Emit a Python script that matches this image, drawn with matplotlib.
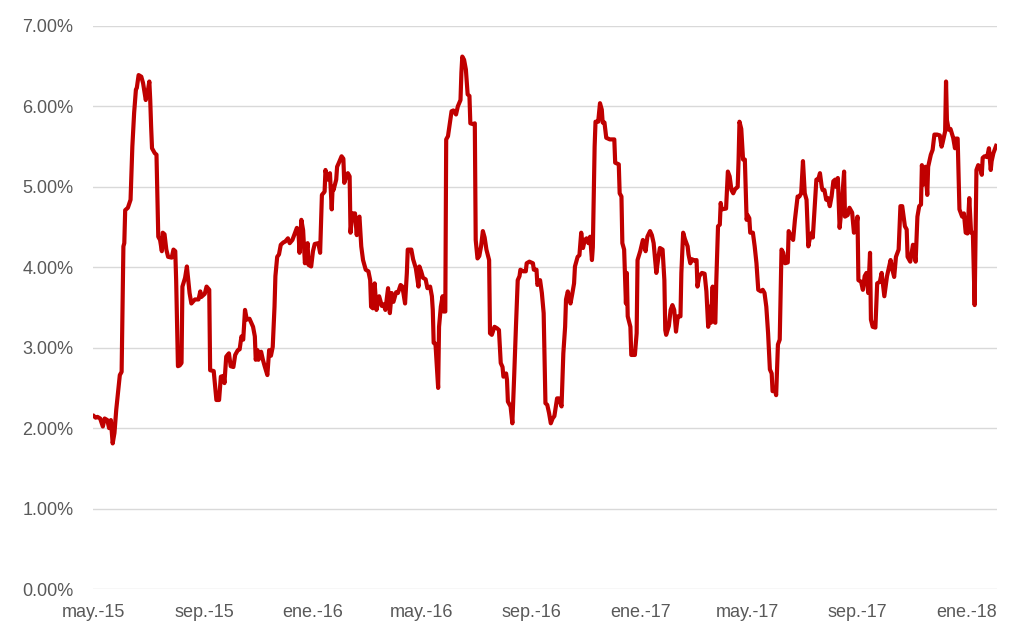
import numpy as np
import matplotlib
matplotlib.use("Agg")
import matplotlib.pyplot as plt
import matplotlib.dates as mdates
from matplotlib.ticker import FuncFormatter

# days counted from 1 May 2015, value in %
days = [0, 2, 4, 7, 10, 12, 15, 17, 19, 21, 23, 25, 27, 29, 31, 33, 34, 35, 38, 41,
        42, 43, 45, 47, 48, 50, 53, 55, 58, 60, 62, 63, 64, 65, 68, 70, 72, 74, 76, 77,
        79, 81, 83, 87, 89, 91, 92, 94, 96, 98, 99, 102, 104, 107, 109, 113, 117, 119, 120, 124,
        126, 129, 130, 134, 137, 140, 142, 145, 146, 148, 151, 153, 156, 158, 161, 163, 165, 167, 169, 171,
        174, 176, 178, 180, 181, 183, 184, 187, 189, 191, 194, 196, 198, 200, 202, 203, 205, 207, 209, 212,
        214, 217, 219, 222, 224, 227, 229, 230, 232, 234, 236, 239, 240, 243, 245, 247, 251, 253, 255, 258,
        259, 261, 263, 264, 266, 267, 268, 271, 272, 274, 277, 279, 280, 282, 284, 286, 287, 289, 292, 294,
        295, 297, 299, 301, 304, 307, 309, 310, 312, 314, 316, 319, 322, 324, 326, 329, 331, 333, 335, 338,
        340, 343, 345, 348, 350, 351, 355, 357, 360, 363, 364, 366, 368, 371, 373, 376, 378, 379, 380, 382,
        385, 386, 388, 390, 391, 393, 394, 396, 398, 400, 402, 405, 407, 410, 411, 412, 414, 416, 418, 420,
        421, 424, 426, 427, 429, 431, 433, 435, 437, 439, 442, 443, 445, 448, 451, 453, 455, 457, 458, 461,
        462, 463, 466, 468, 470, 472, 474, 476, 477, 480, 483, 484, 487, 491, 492, 495, 496, 499, 501, 503,
        505, 507, 509, 511, 513, 515, 518, 520, 523, 525, 527, 528, 530, 533, 535, 537, 538, 541, 543, 545,
        547, 549, 551, 553, 555, 557, 558, 560, 561, 564, 566, 568, 569, 571, 573, 577, 582, 583, 587, 588,
        590, 591, 593, 595, 596, 597, 600, 601, 605, 607, 608, 611, 614, 617, 619, 622, 624, 626, 629, 631,
        633, 636, 638, 639, 640, 643, 645, 647, 649, 651, 653, 656, 657, 659, 661, 664, 665, 667, 669, 672,
        674, 675, 677, 680, 683, 685, 687, 689, 690, 692, 693, 695, 696, 698, 700, 701, 702, 707, 709, 711,
        713, 715, 717, 720, 721, 722, 724, 726, 728, 730, 731, 733, 734, 737, 739, 741, 743, 746, 748, 750,
        752, 754, 756, 758, 759, 762, 763, 765, 767, 769, 771, 773, 776, 777, 779, 782, 784, 787, 789, 791,
        793, 795, 797, 799, 801, 803, 804, 806, 808, 810, 812, 814, 815, 817, 819, 821, 823, 825, 827, 829,
        830, 832, 834, 836, 839, 840, 843, 845, 848, 850, 852, 854, 855, 858, 860, 862, 864, 866, 868, 869,
        871, 874, 876, 879, 881, 884, 887, 891, 893, 895, 897, 900, 902, 904, 907, 909, 910, 913, 916, 919,
        921, 923, 925, 926, 928, 930, 932, 933, 936, 938, 940, 943, 946, 948, 949, 952, 953, 954, 956, 958,
        961, 963, 964, 966, 968, 971, 973, 975, 977, 979, 981, 983, 985, 987, 989, 991, 993, 994, 996, 999,
        1001, 1003, 1004, 1006, 1009]

rate = [2.15, 2.13, 2.14, 2.12, 2.02, 2.12, 2.10, 2.00, 2.10, 1.81, 1.94, 2.23, 2.44, 2.66, 2.70, 4.26, 4.30, 4.71, 4.74, 4.84,
        5.17, 5.50, 5.92, 6.21, 6.23, 6.39, 6.37, 6.29, 6.08, 6.17, 6.31, 6.08, 5.75, 5.48, 5.42, 5.40, 4.38, 4.34, 4.20, 4.43,
        4.41, 4.22, 4.13, 4.12, 4.22, 4.20, 3.84, 2.77, 2.78, 2.81, 3.76, 3.87, 4.01, 3.68, 3.55, 3.60, 3.60, 3.70, 3.63, 3.67,
        3.76, 3.72, 2.72, 2.71, 2.35, 2.35, 2.64, 2.65, 2.56, 2.89, 2.93, 2.77, 2.76, 2.91, 2.97, 2.98, 3.14, 3.10, 3.47, 3.35,
        3.36, 3.31, 3.26, 3.14, 2.85, 2.97, 2.85, 2.95, 2.85, 2.77, 2.66, 2.97, 2.90, 3.01, 3.51, 3.89, 4.13, 4.16, 4.28, 4.31,
        4.32, 4.36, 4.30, 4.34, 4.40, 4.49, 4.39, 4.18, 4.59, 4.46, 4.05, 4.30, 4.03, 4.01, 4.20, 4.29, 4.30, 4.18, 4.90, 4.94,
        5.21, 5.09, 5.15, 5.17, 4.72, 5.00, 4.96, 5.09, 5.25, 5.30, 5.38, 5.35, 5.05, 5.12, 5.17, 5.13, 4.43, 4.67, 4.67, 4.40,
        4.59, 4.63, 4.26, 4.09, 3.97, 3.95, 3.84, 3.51, 3.49, 3.80, 3.47, 3.64, 3.52, 3.54, 3.47, 3.74, 3.43, 3.68, 3.57, 3.69,
        3.68, 3.78, 3.76, 3.55, 3.93, 4.22, 4.22, 4.10, 3.99, 3.76, 4.01, 3.95, 3.87, 3.85, 3.74, 3.76, 3.64, 3.47, 3.06, 3.05,
        2.50, 3.26, 3.51, 3.64, 3.45, 3.45, 5.59, 5.63, 5.79, 5.94, 5.95, 5.90, 6.00, 6.08, 6.42, 6.62, 6.58, 6.46, 6.15, 6.13,
        5.79, 5.78, 5.79, 4.34, 4.11, 4.14, 4.26, 4.45, 4.37, 4.22, 4.09, 3.18, 3.16, 3.26, 3.24, 3.22, 2.81, 2.76, 2.64, 2.68,
        2.60, 2.33, 2.27, 2.06, 2.64, 3.26, 3.84, 3.89, 3.97, 3.95, 3.95, 4.05, 4.07, 4.05, 3.97, 3.97, 3.78, 3.84, 3.68, 3.43,
        2.31, 2.29, 2.19, 2.06, 2.12, 2.15, 2.37, 2.37, 2.27, 2.93, 3.26, 3.60, 3.70, 3.55, 3.67, 3.80, 4.01, 4.13, 4.15, 4.43,
        4.24, 4.34, 4.36, 4.30, 4.38, 4.09, 4.25, 5.50, 5.81, 5.81, 6.04, 5.96, 5.80, 5.80, 5.61, 5.59, 5.59, 5.30, 5.28, 4.92,
        4.88, 4.30, 4.22, 3.55, 3.93, 3.39, 3.26, 2.91, 2.91, 3.18, 4.09, 4.20, 4.34, 4.20, 4.38, 4.45, 4.40, 4.30, 3.93, 4.10,
        4.24, 4.22, 3.84, 3.22, 3.16, 3.27, 3.47, 3.53, 3.47, 3.20, 3.39, 3.39, 3.93, 4.43, 4.35, 4.26, 4.16, 4.05, 4.10, 4.08,
        4.09, 3.76, 3.89, 3.93, 3.92, 3.70, 3.26, 3.51, 3.31, 3.76, 3.33, 3.31, 3.80, 4.51, 4.53, 4.80, 4.72, 4.73, 5.19, 5.13,
        4.96, 4.92, 4.97, 5.00, 5.34, 5.81, 5.72, 5.34, 5.34, 4.59, 4.65, 4.61, 4.43, 4.43, 4.26, 4.05, 3.72, 3.70, 3.72, 3.68,
        3.51, 3.18, 2.73, 2.68, 2.46, 2.46, 2.41, 3.04, 3.10, 4.22, 4.18, 4.05, 4.06, 4.45, 4.40, 4.34, 4.59, 4.88, 4.88, 4.92,
        5.32, 4.92, 4.84, 4.26, 4.38, 4.43, 4.37, 4.72, 5.09, 5.09, 5.17, 5.00, 4.96, 4.96, 4.84, 4.86, 4.76, 4.88, 5.07, 5.09,
        5.00, 5.11, 4.49, 4.72, 5.19, 4.63, 4.65, 4.74, 4.68, 4.43, 4.45, 4.63, 3.84, 3.82, 3.72, 3.89, 3.93, 3.68, 4.18, 3.35,
        3.26, 3.25, 3.80, 3.82, 3.93, 3.64, 3.89, 4.09, 3.97, 3.88, 4.13, 4.22, 4.76, 4.76, 4.51, 4.47, 4.13, 4.07, 4.28, 4.07,
        4.63, 4.76, 4.78, 5.27, 5.03, 5.25, 4.90, 5.25, 5.40, 5.46, 5.65, 5.65, 5.64, 5.50, 5.54, 5.69, 6.31, 5.83, 5.71, 5.72,
        5.61, 5.48, 5.60, 5.60, 4.72, 4.63, 4.67, 4.43, 4.42, 4.86, 4.43, 4.43, 3.53, 5.21, 5.27, 5.24, 5.15, 5.36, 5.38, 5.37,
        5.48, 5.21, 5.32, 5.42, 5.51]

tick_dates = ['2015-05-01', '2015-09-01', '2016-01-01', '2016-05-01', '2016-09-01',
              '2017-01-01', '2017-05-01', '2017-09-01', '2018-01-01']
tick_labels = ['may.-15', 'sep.-15', 'ene.-16', 'may.-16', 'sep.-16',
               'ene.-17', 'may.-17', 'sep.-17', 'ene.-18']

start = np.datetime64('2015-05-01')
dates = start + np.array(days).astype('timedelta64[D]')

plt.rcParams['font.family'] = ['Liberation Sans', 'DejaVu Sans']

fig = plt.figure(figsize=(10.19, 6.33), dpi=100)
ax = fig.add_axes([93/1019, 44/633, (997-93)/1019, (589-26)/633])

ax.plot(dates, rate, color='#C00000', lw=3.0, solid_joinstyle='round', zorder=3)

ax.set_ylim(0, 7)
ax.set_yticks(np.arange(0, 8, 1))
ax.yaxis.set_major_formatter(FuncFormatter(lambda v, p: '%.2f%%' % v))
ax.set_xlim(start - np.timedelta64(1, 'D'), start + np.timedelta64(1010, 'D'))
ax.set_xticks([mdates.datestr2num(d) for d in tick_dates])
ax.set_xticklabels(tick_labels)

ax.grid(axis='y', color='#D9D9D9', lw=1.0, zorder=0)
for s in ax.spines.values():
    s.set_visible(False)
ax.tick_params(axis='both', length=0, labelsize=13, labelcolor='#595959')
ax.tick_params(axis='y', pad=14)
ax.tick_params(axis='x', pad=11)

fig.savefig('out.png', dpi=100)
